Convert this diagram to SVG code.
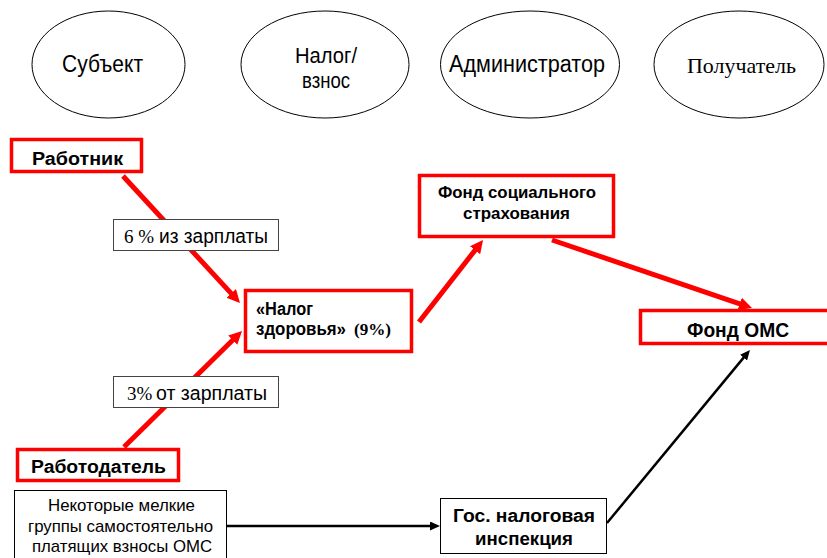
<svg xmlns="http://www.w3.org/2000/svg" width="827" height="558" viewBox="0 0 827 558">
<defs>
<style>
.ell{fill:#fff;stroke:#000;stroke-width:1}
.sans{font-family:"Liberation Sans",Arial,sans-serif;fill:#000}
.serif{font-family:"Liberation Serif","Times New Roman",serif;fill:#000}
.b{font-weight:bold}
.rbox{fill:#fff;stroke:#f00;stroke-width:3.5}
.kbox{fill:#fff;stroke:#000;stroke-width:1}
.lbox{fill:#fff;stroke:#444;stroke-width:1}
.rline{stroke:#f00;stroke-width:5;fill:none}
.kline{stroke:#000;stroke-width:2.5;fill:none}
</style>
<marker id="ar" markerUnits="userSpaceOnUse" markerWidth="14" markerHeight="13" refX="4" refY="6.5" orient="auto">
<path d="M0,0 L13,6.5 L0,13 z" fill="#f00"/>
</marker>
<marker id="ak" markerUnits="userSpaceOnUse" markerWidth="11" markerHeight="9" refX="3" refY="4.5" orient="auto">
<path d="M0,0 L10,4.5 L0,9 z" fill="#000"/>
</marker>
</defs>
<rect width="827" height="558" fill="#fff"/>

<g id="head-subject">
<ellipse class="ell" cx="108.5" cy="64.5" rx="76.5" ry="53.5"/>
<text class="sans" x="62" y="72" font-size="23.5" textLength="81" lengthAdjust="spacingAndGlyphs">Субъект</text>
</g>
<g id="head-tax">
<ellipse class="ell" cx="325" cy="64.5" rx="84" ry="53.5"/>
<text class="sans" x="295" y="63" font-size="21.5" textLength="62" lengthAdjust="spacingAndGlyphs">Налог/</text>
<text class="sans" x="302" y="88" font-size="21.5" textLength="48" lengthAdjust="spacingAndGlyphs">взнос</text>
</g>
<g id="head-admin">
<ellipse class="ell" cx="530" cy="64.5" rx="89.5" ry="53.5"/>
<text class="sans" x="449" y="72" font-size="23.5" textLength="156" lengthAdjust="spacingAndGlyphs">Администратор</text>
</g>
<g id="head-recipient">
<ellipse class="ell" cx="739" cy="64.5" rx="85" ry="53.5"/>
<text class="serif" x="687" y="73" font-size="22" textLength="109" lengthAdjust="spacingAndGlyphs">Получатель</text>
</g>

<g id="connectors">
<line class="rline" x1="123" y1="176" x2="233.9" y2="296.4" marker-end="url(#ar)"/>
<line class="rline" x1="124" y1="447" x2="235.6" y2="337.3" marker-end="url(#ar)"/>
<line class="rline" x1="419" y1="322" x2="477.5" y2="247.1" marker-end="url(#ar)"/>
<line class="rline" x1="552" y1="240" x2="743.5" y2="305.1" marker-end="url(#ar)"/>
<line class="kline" x1="227" y1="526" x2="433" y2="526" marker-end="url(#ak)"/>
<line class="kline" x1="607" y1="523" x2="745.5" y2="355.4" marker-end="url(#ak)"/>
<g id="label-6">
<rect class="lbox" x="113.5" y="219.5" width="165" height="31"/>
<text x="124" y="243" font-size="19"><tspan class="serif">6 %</tspan><tspan class="sans" x="159" font-size="20" textLength="109" lengthAdjust="spacingAndGlyphs">из зарплаты</tspan></text>
</g>
<g id="label-3">
<rect class="lbox" x="113.5" y="376.5" width="165" height="31"/>
<text x="127" y="400" font-size="19"><tspan class="serif">3%</tspan><tspan class="sans" x="156" font-size="20" textLength="111" lengthAdjust="spacingAndGlyphs">от зарплаты</tspan></text>
</g>
</g>

<g id="worker">
<rect class="rbox" x="11.5" y="139.5" width="130" height="32"/>
<text class="sans b" x="32" y="165" font-size="17.5" textLength="91" lengthAdjust="spacingAndGlyphs">Работник</text>
</g>
<g id="health-tax">
<rect class="rbox" x="245.5" y="290.5" width="166" height="61"/>
<text class="sans b" x="256" y="315" font-size="17.5" textLength="57" lengthAdjust="spacingAndGlyphs">«Налог</text>
<text x="256" y="335" font-size="17.5"><tspan class="sans b" textLength="90" lengthAdjust="spacingAndGlyphs">здоровья»</tspan><tspan class="serif b" x="354" font-size="16" textLength="37" lengthAdjust="spacingAndGlyphs">(9%)</tspan></text>
</g>
<g id="fss">
<rect class="rbox" x="419.5" y="175.5" width="194" height="61"/>
<text class="sans b" x="438" y="198" font-size="16.5" textLength="158" lengthAdjust="spacingAndGlyphs">Фонд социального</text>
<text class="sans b" x="463" y="219" font-size="16.5" textLength="107" lengthAdjust="spacingAndGlyphs">страхования</text>
</g>
<g id="foms">
<rect class="rbox" x="640.5" y="310.5" width="190" height="33"/>
<text class="sans b" x="687" y="337" font-size="19.5" textLength="102" lengthAdjust="spacingAndGlyphs">Фонд ОМС</text>
</g>
<g id="employer">
<rect class="rbox" x="17.5" y="449.5" width="161" height="31"/>
<text class="sans b" x="31" y="473" font-size="17.5" textLength="135" lengthAdjust="spacingAndGlyphs">Работодатель</text>
</g>
<g id="self-payers">
<rect class="kbox" x="14.5" y="490.5" width="212" height="70"/>
<text class="sans" x="48" y="511" font-size="17" textLength="147" lengthAdjust="spacingAndGlyphs">Некоторые мелкие</text>
<text class="sans" x="28" y="532" font-size="17" textLength="185" lengthAdjust="spacingAndGlyphs">группы самостоятельно</text>
<text class="sans" x="32" y="552" font-size="17" textLength="180" lengthAdjust="spacingAndGlyphs">платящих взносы ОМС</text>
</g>
<g id="tax-inspection">
<rect class="kbox" x="440.5" y="498.5" width="166" height="55"/>
<text class="sans b" x="453" y="522" font-size="17.5" textLength="142" lengthAdjust="spacingAndGlyphs">Гос. налоговая</text>
<text class="sans b" x="475" y="545" font-size="17.5" textLength="98" lengthAdjust="spacingAndGlyphs">инспекция</text>
</g>
</svg>
